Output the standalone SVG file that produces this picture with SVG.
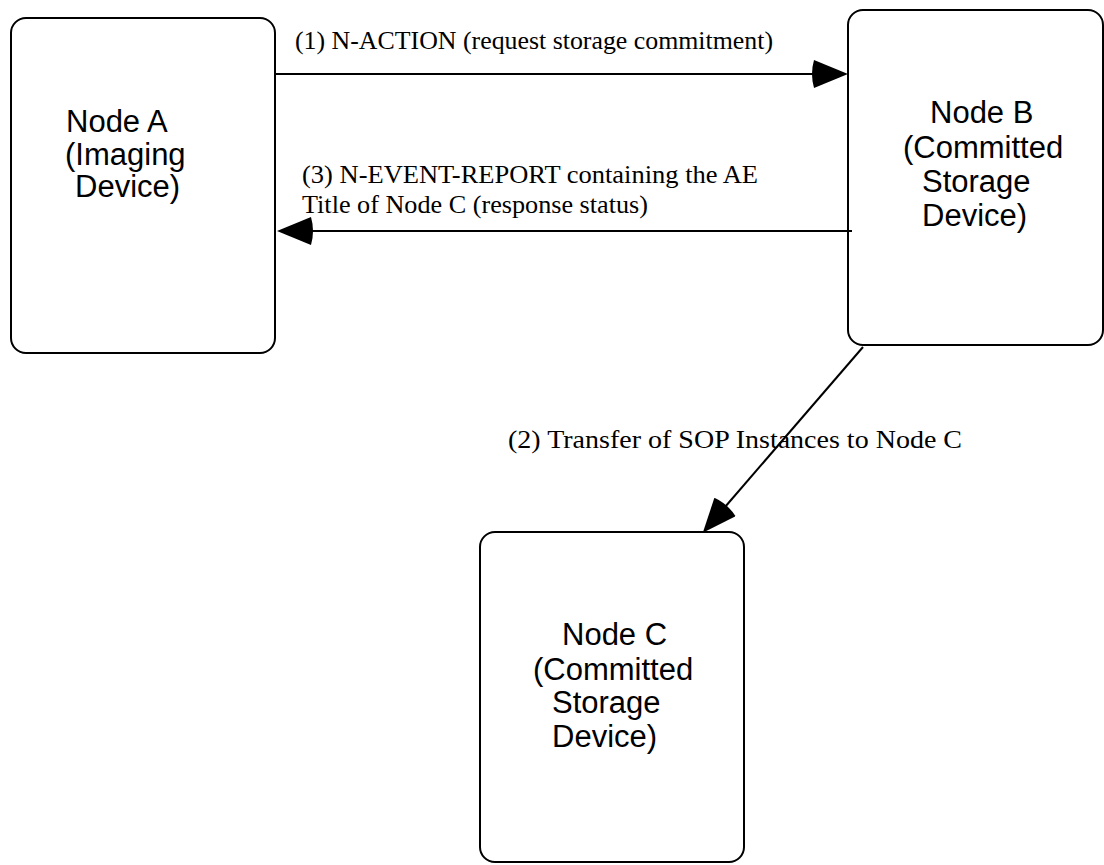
<svg xmlns="http://www.w3.org/2000/svg" width="1104" height="865" viewBox="0 0 1104 865">
<style>
.node{fill:#fff;stroke:#000;stroke-width:2}
.nt{font-family:"Liberation Sans",Arial,sans-serif;font-size:31px;fill:#000}
.lt{font-family:"Liberation Serif","Times New Roman",serif;font-size:26px;fill:#000}
.edge{stroke:#000;stroke-width:2;fill:none}
</style>
<defs>
<marker id="ah" markerUnits="userSpaceOnUse" viewBox="-4 0 38 28" markerWidth="38" markerHeight="28" refX="0" refY="14" orient="auto">
<path d="M0,0 L34,14 L0,28 Q-4,14 0,0 Z" fill="#000"/>
</marker>
</defs>
<rect width="1104" height="865" fill="#fff"/>
<g id="nodeA">
<rect class="node" x="11" y="18" width="264" height="335" rx="15"/>
<text class="nt" x="66" y="132">Node A</text>
<text class="nt" x="65" y="165">(Imaging</text>
<text class="nt" x="75" y="197">Device)</text>
</g>
<g id="nodeB">
<rect class="node" x="848" y="10" width="255" height="335" rx="15"/>
<text class="nt" x="930" y="123">Node B</text>
<text class="nt" x="903" y="158">(Committed</text>
<text class="nt" x="922" y="192">Storage</text>
<text class="nt" x="922" y="226">Device)</text>
</g>
<g id="nodeC">
<rect class="node" x="480" y="532" width="264" height="330" rx="15"/>
<text class="nt" x="562" y="645">Node C</text>
<text class="nt" x="533" y="680">(Committed</text>
<text class="nt" x="552" y="713">Storage</text>
<text class="nt" x="552" y="747">Device)</text>
</g>
<g id="connectors">
<line class="edge" x1="276" y1="74" x2="814" y2="74" marker-end="url(#ah)"/>
<line class="edge" x1="852" y1="231" x2="311" y2="231" marker-end="url(#ah)"/>
<line class="edge" x1="863" y1="347" x2="725" y2="507" marker-end="url(#ah)"/>
<text class="lt" x="295" y="49" textLength="478" lengthAdjust="spacingAndGlyphs">(1) N-ACTION (request storage commitment)</text>
<text class="lt" x="302" y="183" textLength="456" lengthAdjust="spacingAndGlyphs">(3) N-EVENT-REPORT containing the AE</text>
<text class="lt" x="302" y="213" textLength="346" lengthAdjust="spacingAndGlyphs">Title of Node C (response status)</text>
<text class="lt" x="508" y="448" textLength="454" lengthAdjust="spacingAndGlyphs">(2) Transfer of SOP Instances to Node C</text>
</g>
</svg>
